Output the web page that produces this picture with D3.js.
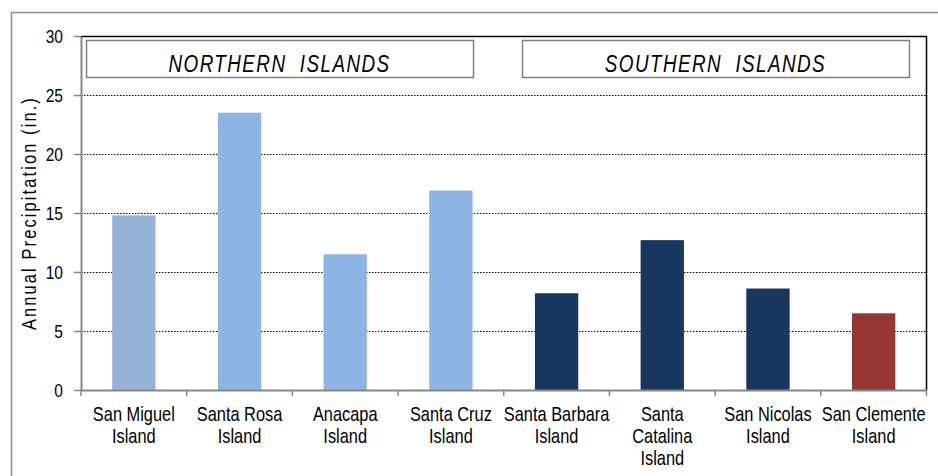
<!DOCTYPE html>
<html><head><meta charset="utf-8">
<script src="https://cdn.jsdelivr.net/npm/d3@7"></script>
<style>
body{margin:0;background:#fff;}
svg{display:block;}
</style></head>
<body>
<svg id="chart" width="938" height="476"></svg>
<script>
const categories = [["San Miguel","Island"],["Santa Rosa","Island"],["Anacapa","Island"],["Santa Cruz","Island"],["Santa Barbara","Island"],["Santa","Catalina","Island"],["San Nicolas","Island"],["San Clemente","Island"]];
const values = [14.8, 23.5, 11.5, 16.9, 8.2, 12.7, 8.6, 6.5];
const barColors = ["#95B3D7","#8EB4E3","#8EB4E3","#8EB4E3","#17375E","#17375E","#17375E","#953735"];
const yTicks = [0,5,10,15,20,25,30];
const groupLabels = ["NORTHERN  ISLANDS","SOUTHERN  ISLANDS"];
const yTitle = "Annual Precipitation (in.)";

const svg = d3.select("#chart");
const L = 81, R = 926.5, T = 36, B = 390;
const font = "'Liberation Sans',Arial,sans-serif";
const SX = 0.82; // horizontal condensing to mimic a narrow face

// outer frame
svg.append("rect").attr("x",11.5).attr("y",12.5).attr("width",960).attr("height",600)
  .attr("fill","none").attr("stroke","#8c8c8c").attr("stroke-width",1.5);

const x = d3.scaleBand().domain(d3.range(categories.length)).range([L,R]).padding(0);
const y = d3.scaleLinear().domain([0,30]).range([B,T]);
const bw = x.bandwidth()*0.41;

// gridlines
svg.append("g").selectAll("line").data(yTicks.filter(d=>d>0&&d<30)).join("line")
  .attr("x1",L).attr("x2",R).attr("y1",d=>Math.round(y(d))+0.5).attr("y2",d=>Math.round(y(d))+0.5)
  .attr("stroke","#000").attr("stroke-width",1).attr("stroke-dasharray","1.5,1.5");

// bars
svg.append("g").selectAll("rect").data(values).join("rect")
  .attr("x",(d,i)=>x(i)+x.bandwidth()/2-bw/2).attr("width",bw)
  .attr("y",d=>y(d)).attr("height",d=>B-y(d))
  .attr("fill",(d,i)=>barColors[i]);

// plot border top/right
svg.append("line").attr("x1",L).attr("x2",R).attr("y1",T+0.5).attr("y2",T+0.5).attr("stroke","#000").attr("stroke-width",1.5);
svg.append("line").attr("x1",R).attr("x2",R).attr("y1",T).attr("y2",B).attr("stroke","#000").attr("stroke-width",1.5);

// y axis
const yAxis = svg.append("g").attr("transform",`translate(${L},0)`)
  .call(d3.axisLeft(y).tickValues(yTicks).tickSize(7).tickSizeOuter(0).tickFormat(""));
yAxis.select(".domain").attr("stroke","#868686").attr("stroke-width",2);
yAxis.selectAll(".tick line").attr("stroke","#868686").attr("stroke-width",1.5);
svg.append("g").selectAll("text").data(yTicks).join("text")
  .attr("transform",d=>`translate(63,${y(d)+6.5}) scale(${SX},1)`)
  .attr("text-anchor","end").attr("font-family",font).attr("font-size",19).attr("fill","#000")
  .text(d=>d);

// x axis
const xAxis = svg.append("g").attr("transform",`translate(0,${B})`)
  .call(d3.axisBottom(x).tickValues([]).tickSizeOuter(0));
xAxis.select(".domain").attr("stroke","#868686").attr("stroke-width",2);
const bounds = d3.range(categories.length+1).map(i=>L+i*x.step());
xAxis.selectAll(".bt").data(bounds).join("line").attr("class","bt")
  .attr("x1",d=>d).attr("x2",d=>d).attr("y1",0).attr("y2",6)
  .attr("stroke","#868686").attr("stroke-width",1.5);

// category labels
const lab = svg.append("g").selectAll("text").data(categories).join("text")
  .attr("transform",(d,i)=>`translate(${x(i)+x.bandwidth()/2},421) scale(${SX},1)`)
  .attr("text-anchor","middle").attr("font-family",font).attr("font-size",20).attr("fill","#000");
lab.selectAll("tspan").data(d=>d).join("tspan")
  .attr("x",0).attr("dy",(d,i)=>i===0?0:22).text(d=>d);

// y title
svg.append("text").attr("transform",`translate(36,213) rotate(-90) scale(${SX},1)`)
  .attr("text-anchor","middle").attr("font-family",font).attr("font-size",20)
  .attr("letter-spacing",2.6).attr("fill","#000").text(yTitle);

// group label boxes
const boxes = [[86,473],[522,909]];
boxes.forEach((b,i)=>{
  svg.append("rect").attr("x",b[0]+0.5).attr("y",40.5).attr("width",b[1]-b[0]).attr("height",37)
    .attr("fill","#fff").attr("stroke","#808080").attr("stroke-width",1.5);
  svg.append("text").attr("transform",`translate(${(b[0]+b[1])/2},72) scale(${SX},1)`)
    .attr("text-anchor","middle").attr("font-family",font).attr("font-style","italic")
    .attr("font-size",23).attr("letter-spacing",1.75).attr("fill","#000")
    .attr("xml:space","preserve").style("white-space","pre").text(groupLabels[i]);
});
</script>
</body></html>
